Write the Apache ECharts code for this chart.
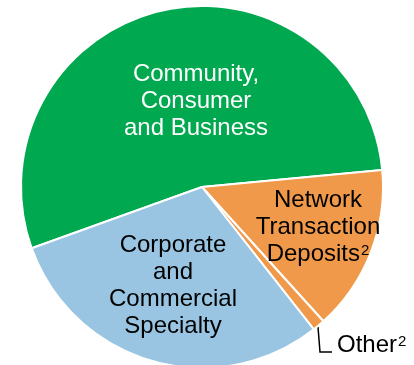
<!DOCTYPE html>
<html>
<head>
<meta charset="utf-8">
<script src="https://cdn.jsdelivr.net/npm/echarts@6/dist/echarts.min.js"></script>
<style>
  html, body { margin: 0; padding: 0; background: #fff; }
  #chart { width: 414px; height: 365px; }
</style>
</head>
<body>
<div id="chart"></div>
<script>
var segments = ['Community,\nConsumer\nand Business', 'Network\nTransaction\nDeposits{sup|2}', 'Other{sup|2}', 'Corporate\nand\nCommercial\nSpecialty'];
var shares = [54.0, 14.8, 1.1, 30.1];
var sliceColors = ['#00a84f', '#f0994a', '#f0994a', '#99c5e2'];
var textColors = ['#ffffff', '#000000', '#000000', '#000000'];

// where each label sits (centre of the text block)
var labelSpots = [
  { x: 196, y: 101, align: 'center' },
  { x: 318, y: 227, align: 'center' },
  { x: 337, y: 345, align: 'left' },
  { x: 173, y: 286, align: 'center' }
];

document.addEventListener("DOMContentLoaded", function () {
  var chart = echarts.init(document.getElementById('chart'));

  var pieData = segments.map(function (name, i) {
    return {
      name: name,
      value: shares[i],
      itemStyle: { color: sliceColors[i] },
      label: { color: textColors[i] }
    };
  });

  var option = {
    animation: false,
    series: [
      {
        type: 'pie',
        center: [202, 187],
        radius: [0, 181],
        startAngle: 199.8,
        clockwise: true,
        itemStyle: {
          borderColor: '#ffffff',
          borderWidth: 2
        },
        label: {
          show: true,
          position: 'inside',
          formatter: '{b}',
          fontFamily: '"Liberation Sans", Arial, sans-serif',
          fontSize: 24,
          lineHeight: 27,
          rich: {
            sup: {
              fontFamily: '"Liberation Sans", Arial, sans-serif',
              fontSize: 15,
              lineHeight: 15,
              verticalAlign: 'top',
              padding: [3, 0, 0, 1]
            }
          }
        },
        labelLine: { show: false },
        labelLayout: function (params) {
          var s = labelSpots[params.dataIndex];
          return { x: s.x, y: s.y, align: s.align, verticalAlign: 'middle' };
        },
        emphasis: { disabled: true },
        data: pieData
      }
    ],
    graphic: [
      {
        type: 'polyline',
        shape: { points: [[318, 327], [320, 352], [332, 352]] },
        style: { stroke: '#000000', lineWidth: 1.5, fill: null }
      }
    ]
  };

  chart.setOption(option);
});
</script>
</body>
</html>
